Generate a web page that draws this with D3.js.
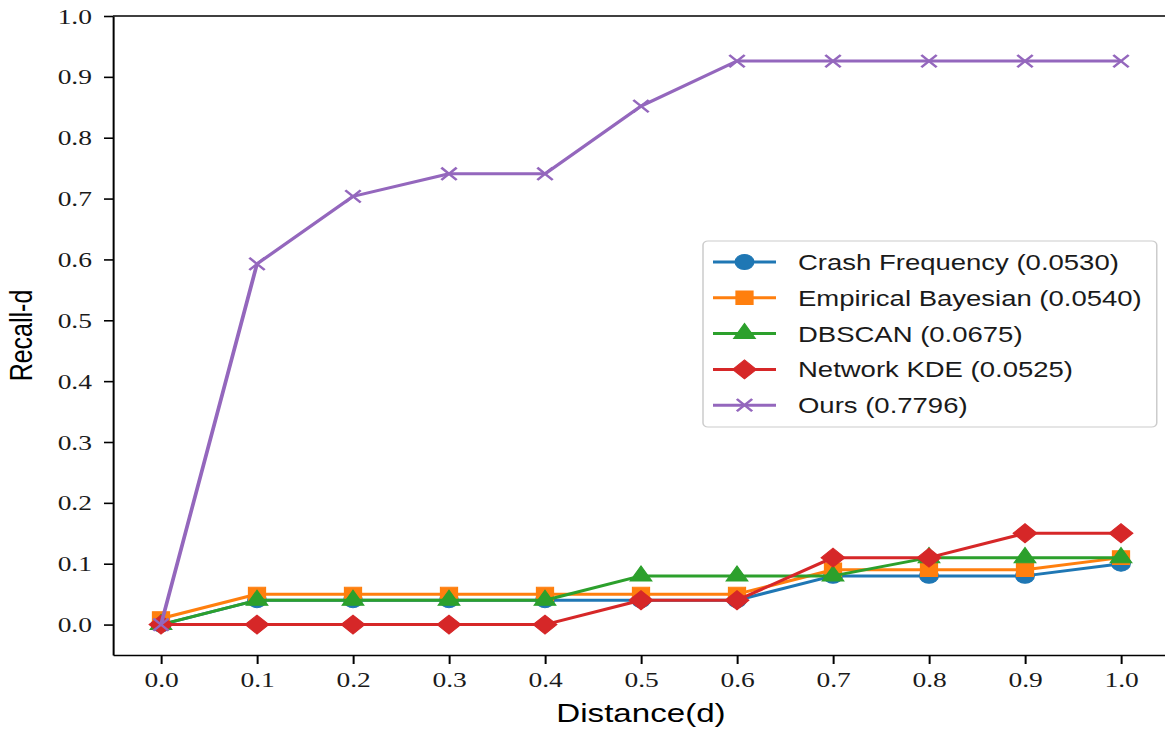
<!DOCTYPE html>
<html>
<head>
<meta charset="utf-8">
<script src="https://cdn.jsdelivr.net/npm/d3@7"></script>
<style>
  body { margin: 0; background: #fff; }
  svg { display: block; }
</style>
</head>
<body>
<div id="chart"></div>
<script>
// data
var distances = [0.0, 0.1, 0.2, 0.3, 0.4, 0.5, 0.6, 0.7, 0.8, 0.9, 1.0];
var crashFrequency = [0.0, 0.04, 0.04, 0.04, 0.04, 0.04, 0.04, 0.08, 0.08, 0.08, 0.10];
var empiricalBayesian = [0.01, 0.05, 0.05, 0.05, 0.05, 0.05, 0.05, 0.09, 0.09, 0.09, 0.11];
var dbscan = [0.0, 0.04, 0.04, 0.04, 0.04, 0.08, 0.08, 0.08, 0.11, 0.11, 0.11];
var networkKDE = [0.0, 0.0, 0.0, 0.0, 0.0, 0.04, 0.04, 0.11, 0.11, 0.15, 0.15];
var ours = [0.0, 16/27, 19/27, 20/27, 20/27, 23/27, 25/27, 25/27, 25/27, 25/27, 25/27];
var seriesLabels = ['Crash Frequency (0.0530)', 'Empirical Bayesian (0.0540)', 'DBSCAN (0.0675)',
    'Network KDE (0.0525)', 'Ours (0.7796)'];
var yTicks = [0.0, 0.1, 0.2, 0.3, 0.4, 0.5, 0.6, 0.7, 0.8, 0.9, 1.0];

var colors = ['#1f77b4', '#ff7f0e', '#2ca02c', '#d62728', '#9467bd'];
var markers = ['circle', 'square', 'triangle', 'diamond', 'x'];
var series = [crashFrequency, empiricalBayesian, dbscan, networkKDE, ours].map(function(vals, i) {
    return {label: seriesLabels[i], color: colors[i], marker: markers[i], values: vals};
});

// the original figure is stretched horizontally, so draw in a narrower space and scale it
var sx = 1.25;
var width = 1165, height = 730;

var svg = d3.select('#chart')
    .append('svg')
    .attr('width', width)
    .attr('height', height)
    .append('g')
    .attr('transform', 'scale(' + sx + ',1)');

var x = d3.scaleLinear().domain([-0.05, 1.05]).range([90.4, 935.2]);
var y = d3.scaleLinear().domain([-0.05, 1.0]).range([655, 16]);

var tickFont = '"Liberation Serif", serif';
var sansFont = '"Liberation Sans", Arial, sans-serif';

// axes
var xaxis = d3.axisBottom(x).tickValues(distances).tickFormat(d3.format('.1f'))
    .tickSizeInner(9).tickSizeOuter(0).tickPadding(7);
var yaxis = d3.axisLeft(y).tickValues(yTicks).tickFormat(d3.format('.1f'))
    .tickSizeInner(7.2).tickSizeOuter(0).tickPadding(9.6);

var gx = svg.append('g').attr('transform', 'translate(0,' + y.range()[0] + ')').call(xaxis);
var gy = svg.append('g').attr('transform', 'translate(' + x.range()[0] + ',0)').call(yaxis);

[gx, gy].forEach(function(g) {
    g.select('.domain').attr('stroke', '#000').attr('stroke-width', 1.6);
    g.selectAll('.tick line').attr('stroke', '#000').attr('stroke-width', 1.6);
    g.selectAll('.tick text').attr('fill', '#1a1a1a')
        .style('font-family', tickFont).style('font-size', '22px');
});

// top and right spines
svg.append('line')
    .attr('x1', x.range()[0]).attr('x2', x.range()[1])
    .attr('y1', y.range()[1]).attr('y2', y.range()[1])
    .attr('stroke', '#000').attr('stroke-width', 1.6);
svg.append('line')
    .attr('x1', x.range()[1]).attr('x2', x.range()[1])
    .attr('y1', y.range()[0]).attr('y2', y.range()[1])
    .attr('stroke', '#000').attr('stroke-width', 1.6);

// axis labels
svg.append('text')
    .attr('x', (x.range()[0] + x.range()[1]) / 2)
    .attr('y', 722)
    .attr('text-anchor', 'middle')
    .style('font-family', sansFont).style('font-size', '26.5px')
    .text('Distance(d)');

svg.append('text')
    .attr('transform', 'translate(25.5,' + (y.range()[0] + y.range()[1]) / 2 + ') rotate(-90)')
    .attr('text-anchor', 'middle')
    .style('font-family', sansFont).style('font-size', '25px')
    .text('Recall-d');

// marker shapes
function markerPath(m) {
    if (m === 'circle') return d3.symbol(d3.symbolCircle, 175)();
    if (m === 'square') return d3.symbol(d3.symbolSquare, 185)();
    if (m === 'triangle') return d3.symbol(d3.symbolTriangle, 130)();
    if (m === 'diamond') return d3.symbol(d3.symbolSquare, 180)();
    return d3.symbol(d3.symbolX, 100)();
}

function drawMarker(g, s, cx, cy) {
    var p = g.append('path')
        .attr('d', markerPath(s.marker))
        .attr('transform', 'translate(' + cx + ',' + cy + ')' + (s.marker === 'diamond' ? ' rotate(45)' : ''));
    if (s.marker === 'x') {
        p.attr('fill', 'none').attr('stroke', s.color).attr('stroke-width', 2.2);
    } else {
        p.attr('fill', s.color).attr('stroke', s.color).attr('stroke-width', 1);
    }
}

var line = d3.line()
    .x(function(d, i) { return x(distances[i]); })
    .y(function(d) { return y(d); });

series.forEach(function(s) {
    var g = svg.append('g');
    g.append('path')
        .attr('d', line(s.values))
        .attr('fill', 'none')
        .attr('stroke', s.color)
        .attr('stroke-width', 3)
        .attr('stroke-linejoin', 'round');
    s.values.forEach(function(v, i) {
        drawMarker(g, s, x(distances[i]), y(v));
    });
});

// legend
var legend = svg.append('g');
legend.append('rect')
    .attr('x', 562.4).attr('y', 241)
    .attr('width', 363).attr('height', 186)
    .attr('rx', 4)
    .attr('fill', '#fff').attr('fill-opacity', 0.8)
    .attr('stroke', '#cccccc').attr('stroke-width', 1.2);

series.forEach(function(s, i) {
    var cy = 262 + i * 35.8;
    var row = legend.append('g');
    row.append('line')
        .attr('x1', 570.4).attr('x2', 620.8)
        .attr('y1', cy).attr('y2', cy)
        .attr('stroke', s.color).attr('stroke-width', 3);
    drawMarker(row, s, 595.6, cy);
    row.append('text')
        .attr('x', 638.4).attr('y', cy + 8)
        .style('font-family', sansFont).style('font-size', '22px')
        .attr('fill', '#1a1a1a')
        .text(s.label);
});
</script>
</body>
</html>
